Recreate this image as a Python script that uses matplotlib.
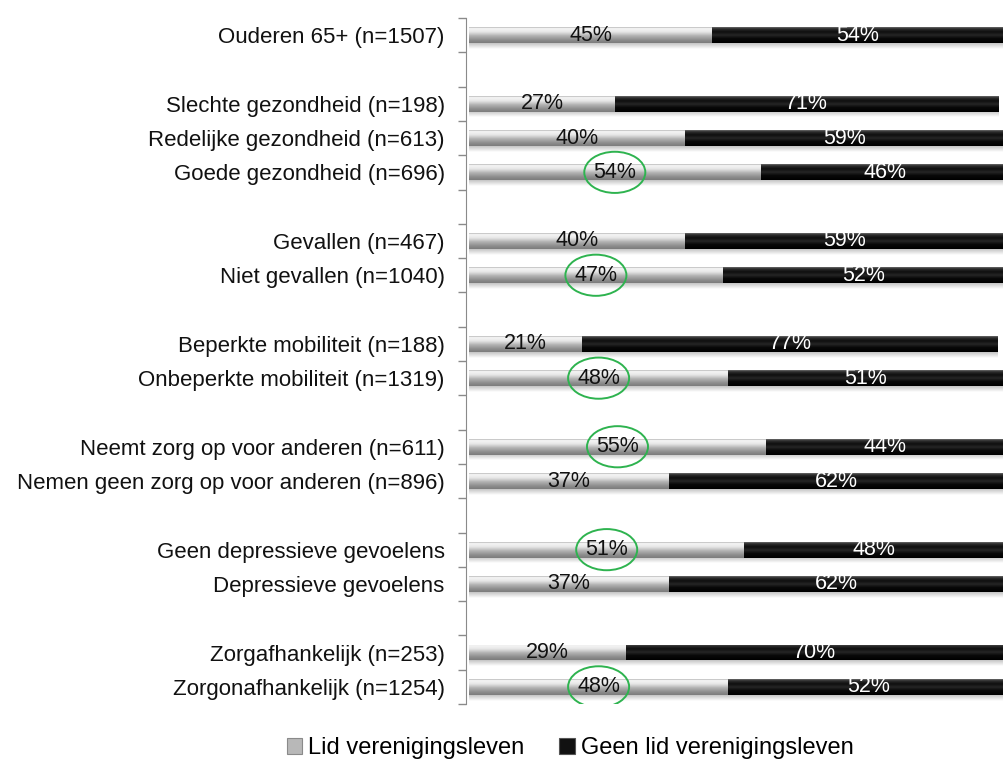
import matplotlib
matplotlib.use('Agg')
import matplotlib.pyplot as plt
import numpy as np
from matplotlib.patches import Ellipse, Rectangle
from matplotlib.colors import LinearSegmentedColormap

# ---------------- data ----------------
categories = [
    'Ouderen 65+ (n=1507)',
    'Slechte gezondheid (n=198)',
    'Redelijke gezondheid (n=613)',
    'Goede gezondheid (n=696)',
    'Gevallen (n=467)',
    'Niet gevallen (n=1040)',
    'Beperkte mobiliteit (n=188)',
    'Onbeperkte mobiliteit (n=1319)',
    'Neemt zorg op voor anderen (n=611)',
    'Nemen geen zorg op voor anderen (n=896)',
    'Geen depressieve gevoelens',
    'Depressieve gevoelens',
    'Zorgafhankelijk (n=253)',
    'Zorgonafhankelijk (n=1254)',
]
lid = [45, 27, 40, 54, 40, 47, 21, 48, 55, 37, 51, 37, 29, 48]
geen = [54, 71, 59, 46, 59, 52, 77, 51, 44, 62, 48, 62, 70, 52]
group_sizes = [1, 3, 2, 2, 2, 2, 2]
highlight = [False, False, False, True, False, True, False, True,
             True, False, True, False, False, True]
series_names = ['Lid verenigingsleven', 'Geen lid verenigingsleven']

plt.rcParams['font.family'] = ['Liberation Sans', 'DejaVu Sans']

W, H = 1004, 763
fig = plt.figure(figsize=(W / 100, H / 100), dpi=100)
ax = fig.add_axes([469 / W, 1 - 704 / H, 540 / W, 686 / H])

# row positions with a blank row between groups
pos = []
r = 0
for g in group_sizes:
    for k in range(g):
        pos.append(r)
        r += 1
    r += 1
last = pos[-1]

bar_h = 0.46
gray_bars = ax.barh(pos, lid, height=bar_h, color='#b5b5b5', zorder=2)
black_bars = ax.barh(pos, geen, left=lid, height=bar_h, color='#111111', zorder=2)

gray_cmap = LinearSegmentedColormap.from_list('g', [
    (0.0, '#b0b0b0'), (0.07, '#f6f6f6'), (0.3, '#e6e6e6'), (0.55, '#b2b2b2'),
    (0.8, '#8e8e8e'), (1.0, '#7c7c7c')])
black_cmap = LinearSegmentedColormap.from_list('b', [
    (0.0, '#6a6a6a'), (0.1, '#2e2e2e'), (0.3, '#0e0e0e'), (0.5, '#262626'),
    (0.72, '#080808'), (1.0, '#000000')])
shadow_cmap = LinearSegmentedColormap.from_list('s', ['#c4c4c4', '#ffffff'])
grad = np.linspace(0, 1, 64).reshape(-1, 1)

def shade(bars, cmap):
    for p in bars:
        x0, y0 = p.get_x(), p.get_y()
        w, h = p.get_width(), p.get_height()
        im = ax.imshow(grad, cmap=cmap, aspect='auto', origin='upper',
                       extent=(x0, x0 + w, y0 + h, y0), interpolation='bilinear',
                       zorder=3)
        im.set_clip_path(p)
        # soft reflection below the bar
        ax.imshow(grad, cmap=shadow_cmap, aspect='auto', origin='upper',
                  extent=(x0, x0 + w, y0 + h + 0.17, y0 + h),
                  interpolation='bilinear', zorder=1)

shade(gray_bars, gray_cmap)
shade(black_bars, black_cmap)

fs_lab = 16
fs_val = 15.5
for i, y in enumerate(pos):
    cx1 = lid[i] / 2
    cx2 = lid[i] + geen[i] / 2
    ax.text(cx1, y, f'{lid[i]}%', ha='center', va='center', fontsize=fs_val,
            color='#111111', zorder=5)
    ax.text(cx2, y, f'{geen[i]}%', ha='center', va='center', fontsize=fs_val,
            color='white', zorder=5)
    if highlight[i]:
        ax.add_patch(Ellipse((cx1, y), width=11.3, height=1.2, fill=False,
                             edgecolor='#2eb34f', lw=1.4, zorder=6))

ax.set_xlim(0, 100)
ax.set_ylim(last + 0.5, -0.5)
ax.set_yticks(pos)
ax.set_yticklabels(categories)
ax.tick_params(axis='y', which='major', length=0, pad=15.5, labelsize=fs_lab,
               labelcolor='#111111')
ax.set_yticks(np.arange(-0.5, last + 1, 1), minor=True)
ax.tick_params(axis='y', which='minor', length=6, color='#8a8a8a', width=1)
ax.set_xticks([])
for s in ['top', 'right', 'bottom']:
    ax.spines[s].set_visible(False)
ax.spines['left'].set_color('#8a8a8a')
ax.spines['left'].set_position(('outward', 2))

handles = [Rectangle((0, 0), 1, 1, facecolor='#b8b8b8', edgecolor='#8a8a8a', lw=0.8),
           Rectangle((0, 0), 1, 1, facecolor='#111111', edgecolor='#555555', lw=0.8)]
fig.legend(handles, series_names, loc='center', bbox_to_anchor=(570 / W, 15 / H),
           ncol=2, frameon=False, fontsize=17, handlelength=0.65, handleheight=0.65,
           handletextpad=0.25, columnspacing=1.5)

fig.savefig('out.png', dpi=100)
